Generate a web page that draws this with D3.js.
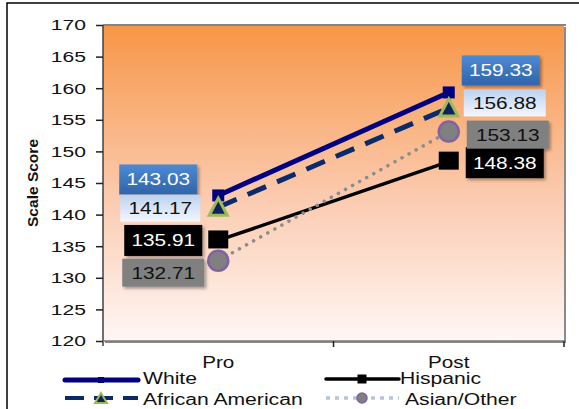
<!DOCTYPE html>
<html>
<head>
<meta charset="utf-8">
<script src="https://cdn.jsdelivr.net/npm/d3@7"></script>
<style>
  html, body { margin: 0; padding: 0; background: #fff; }
  svg { display: block; font-family: "Liberation Sans", Arial, sans-serif; }
</style>
</head>
<body>
<svg id="chart" width="579" height="409"></svg>
<script>
// Test phases on the x axis
const phases = ["Pro", "Post"];
// Group names, in legend order
const groups = ["White", "African American", "Hispanic", "Asian/Other"];
// Mean scale scores per group, [Pro, Post]
const whiteScores = [143.03, 159.33];
const africanAmericanScores = [141.17, 156.88];
const hispanicScores = [135.91, 148.38];
const asianOtherScores = [132.71, 153.13];
// Y axis ticks
const yTicks = [120, 125, 130, 135, 140, 145, 150, 155, 160, 165, 170];

const seriesValues = [whiteScores, africanAmericanScores, hispanicScores, asianOtherScores];

// Per-series drawing style
const styles = [
  { stroke: "#000080", width: 5, dash: null, marker: "square", size: 12, fill: "#000080", outline: "none",
    box: "blue", text: "#fff" },
  { stroke: "#0a2a6e", width: 5, dash: "20,12", marker: "triangle", size: 18, fill: "#10215f", outline: "#9bbb59",
    box: "lightblue", text: "#111" },
  { stroke: "#000", width: 3.5, dash: null, marker: "square", size: 20, fill: "#000", outline: "none",
    box: "#000", text: "#fff" },
  { stroke: "#8c8c8c", width: 3.5, dash: "0.1,8", cap: "round", marker: "circle", size: 10, fill: "#808080", outline: "#8064a2",
    box: "#808080", text: "#111" }
];
// Value label layout: vertical shift from the point, gap from the point, box size
const labelShift = [[-16, -22], [1, -5], [0, 1], [12, 3]];
const labelGap = [[21, 13], [18, 15], [16, 17], [14, 18]];
const labelWidths = [[78, 78], [80, 82], [78, 78], [82, 82]];
const labelHeights = [30, 27, 31, 28];

// Widen text horizontally by factor k (the chart uses a wide face)
function stretch(sel, k) {
  sel.each(function () {
    const len = this.getComputedTextLength();
    d3.select(this).attr("textLength", len * k).attr("lengthAdjust", "spacingAndGlyphs");
  });
  return sel;
}

const svg = d3.select("#chart");
const margin = { left: 103, top: 25, right: 564, bottom: 341 };

const x = d3.scaleBand().domain(phases).range([margin.left, margin.right]);
const y = d3.scaleLinear().domain([120, 170]).range([margin.bottom, margin.top]);

const defs = svg.append("defs");
const bg = defs.append("linearGradient").attr("id", "bg").attr("x1", 0).attr("y1", 0).attr("x2", 0).attr("y2", 1);
bg.append("stop").attr("offset", "0%").attr("stop-color", "#f79646");
bg.append("stop").attr("offset", "55%").attr("stop-color", "#fbcbb0");
bg.append("stop").attr("offset", "100%").attr("stop-color", "#fef7f5");

const blue = defs.append("linearGradient").attr("id", "blue").attr("x1", 0).attr("y1", 0).attr("x2", 0).attr("y2", 1);
blue.append("stop").attr("offset", "0%").attr("stop-color", "#4d8ad3");
blue.append("stop").attr("offset", "100%").attr("stop-color", "#2f64aa");

const lightblue = defs.append("linearGradient").attr("id", "lightblue").attr("x1", 0).attr("y1", 0).attr("x2", 0).attr("y2", 1);
lightblue.append("stop").attr("offset", "0%").attr("stop-color", "#bcd2ef");
lightblue.append("stop").attr("offset", "100%").attr("stop-color", "#f3f7fd");

const shadow = defs.append("filter").attr("id", "shadow").attr("x", "-20%").attr("y", "-20%").attr("width", "150%").attr("height", "150%");
shadow.append("feDropShadow").attr("dx", 2).attr("dy", 2).attr("stdDeviation", 1.5).attr("flood-color", "#000").attr("flood-opacity", 0.35);

// Outer frame
svg.append("rect").attr("x", 7).attr("y", 3).attr("width", 620).attr("height", 450)
  .attr("fill", "none").attr("stroke", "#000").attr("stroke-width", 1.5);

// Plot area with gradient fill and grey border
svg.append("rect")
  .attr("x", margin.left + 2).attr("y", margin.top + 2)
  .attr("width", margin.right - margin.left).attr("height", margin.bottom - margin.top)
  .attr("fill", "#8a8a8a");
svg.append("rect")
  .attr("x", margin.left).attr("y", margin.top)
  .attr("width", margin.right - margin.left).attr("height", margin.bottom - margin.top)
  .attr("fill", "url(#bg)");
svg.append("line").attr("x1", margin.left).attr("x2", margin.right + 2)
  .attr("y1", margin.top).attr("y2", margin.top).attr("stroke", "#858585").attr("stroke-width", 2);

// Y axis
const yAxis = svg.append("g").attr("transform", `translate(${margin.left},0)`)
  .call(d3.axisLeft(y).tickValues(yTicks).tickSize(7).tickPadding(10).tickFormat(d3.format("d")));
yAxis.select(".domain").attr("stroke", "#404040").attr("stroke-width", 1.5).attr("d", `M0,${margin.top}V${margin.bottom + 5}`);
yAxis.selectAll(".tick line").attr("stroke", "#222").attr("stroke-width", 1.5);
yAxis.selectAll(".tick text").attr("font-size", 15.5).attr("fill", "#111").attr("font-family", "Liberation Sans, Arial, sans-serif");
stretch(yAxis.selectAll(".tick text"), 1.36);

// X axis: ticks sit on the category boundaries
const xAxis = svg.append("g").attr("transform", `translate(0,${margin.bottom})`);
xAxis.append("line").attr("x1", margin.left).attr("x2", margin.right)
  .attr("stroke", "#7a7a7a").attr("stroke-width", 1.5);
xAxis.selectAll("line.tk").data(phases).join("line").attr("class", "tk")
  .attr("x1", d => x(d) + x.bandwidth()).attr("x2", d => x(d) + x.bandwidth())
  .attr("y1", 0).attr("y2", 6).attr("stroke", "#222").attr("stroke-width", 1.5);
stretch(xAxis.selectAll("text").data(phases).join("text")
  .attr("x", d => x(d) + x.bandwidth() / 2).attr("y", 27)
  .attr("text-anchor", "middle").attr("font-size", 16.5).attr("fill", "#111").text(d => d), 1.25);

// Y axis title
svg.append("text").attr("transform", `translate(38,${(margin.top + margin.bottom) / 2}) rotate(-90)`)
  .attr("text-anchor", "middle").attr("font-size", 15).attr("font-weight", "bold").attr("fill", "#111")
  .attr("textLength", 88).attr("lengthAdjust", "spacingAndGlyphs")
  .text("Scale Score");

const cx = d => x(d) + x.bandwidth() / 2;

function drawMarker(g, st, px, py) {
  const s = st.size;
  if (st.marker === "square") {
    g.append("rect").attr("x", px - s / 2).attr("y", py - s / 2).attr("width", s).attr("height", s * (st.size > 15 ? 0.9 : 1))
      .attr("fill", st.fill);
  } else if (st.marker === "triangle") {
    g.append("path")
      .attr("d", `M${px},${py - s / 2}L${px + s / 2},${py + s / 2 - 1}L${px - s / 2},${py + s / 2 - 1}Z`)
      .attr("fill", st.fill).attr("stroke", st.outline).attr("stroke-width", 3).attr("stroke-linejoin", "miter");
  } else {
    g.append("circle").attr("cx", px).attr("cy", py).attr("r", s)
      .attr("fill", st.fill).attr("stroke", st.outline).attr("stroke-width", 2.5);
  }
}

// Lines and markers
const line = d3.line().x((d, i) => cx(phases[i])).y(d => y(d));
const plot = svg.append("g");
seriesValues.forEach((vals, si) => {
  const st = styles[si];
  plot.append("path").datum(vals).attr("d", line)
    .attr("fill", "none").attr("stroke", st.stroke).attr("stroke-width", st.width)
    .attr("stroke-dasharray", st.dash).attr("stroke-linecap", st.cap || "butt");
});
seriesValues.forEach((vals, si) => {
  vals.forEach((v, i) => drawMarker(plot, styles[si], cx(phases[i]), y(v)));
});

// Value labels
const labels = svg.append("g");
seriesValues.forEach((vals, si) => {
  const st = styles[si];
  vals.forEach((v, i) => {
    const w = labelWidths[si][i];
    const h = labelHeights[si];
    const mid = y(v) + labelShift[si][i];
    const left = i === 0 ? cx(phases[i]) - labelGap[si][i] - w : cx(phases[i]) + labelGap[si][i];
    const fill = st.box === "blue" ? "url(#blue)" : st.box === "lightblue" ? "url(#lightblue)" : st.box;
    labels.append("rect").attr("x", left).attr("y", mid - h / 2).attr("width", w).attr("height", h)
      .attr("fill", fill).attr("filter", st.box === "lightblue" ? null : "url(#shadow)");
    stretch(labels.append("text").attr("x", left + w / 2).attr("y", mid + 6)
      .attr("text-anchor", "middle").attr("font-size", 16).attr("fill", st.text)
      .text(d3.format(".2f")(v)), 1.3);
  });
});

// Legend: two rows, two columns
const legendPos = [[65, 380], [65, 398], [326, 379], [326, 398]];
const legendBaseline = [4, 7, 5, 7];
const legend = svg.append("g");
groups.forEach((name, si) => {
  const st = styles[si];
  const [lx, ly] = legendPos[si];
  const g = legend.append("g");
  if (si === 3) {
    g.append("line").attr("x1", lx).attr("x2", lx + 73).attr("y1", ly).attr("y2", ly)
      .attr("stroke", "#b4c3de").attr("stroke-width", 3.5).attr("stroke-dasharray", "4,5");
  } else if (si === 1) {
    g.append("line").attr("x1", lx).attr("x2", lx + 73).attr("y1", ly).attr("y2", ly)
      .attr("stroke", st.stroke).attr("stroke-width", 4).attr("stroke-dasharray", "19,10");
  } else {
    g.append("line").attr("x1", lx).attr("x2", lx + 73).attr("y1", ly).attr("y2", ly)
      .attr("stroke", st.stroke).attr("stroke-width", st.width).attr("stroke-linecap", "round");
  }
  const mx = lx + 36;
  if (st.marker === "square") {
    const s = si === 0 ? 6 : 9;
    g.append("rect").attr("x", mx - s / 2).attr("y", ly - s / 2).attr("width", s).attr("height", s).attr("fill", st.fill);
  } else if (st.marker === "triangle") {
    g.append("path").attr("d", `M${mx},${ly - 5}L${mx + 6},${ly + 5}L${mx - 6},${ly + 5}Z`)
      .attr("fill", st.fill).attr("stroke", st.outline).attr("stroke-width", 2);
  } else {
    g.append("circle").attr("cx", mx).attr("cy", ly).attr("r", 5).attr("fill", st.fill).attr("stroke", st.outline).attr("stroke-width", 1.5);
  }
  stretch(g.append("text").attr("x", si === 3 ? lx + 79 : lx + 76 + (si < 2 ? 2 : -2)).attr("y", ly + legendBaseline[si])
    .attr("font-size", 16).attr("fill", "#111").text(name), 1.32);
});
</script>
</body>
</html>
